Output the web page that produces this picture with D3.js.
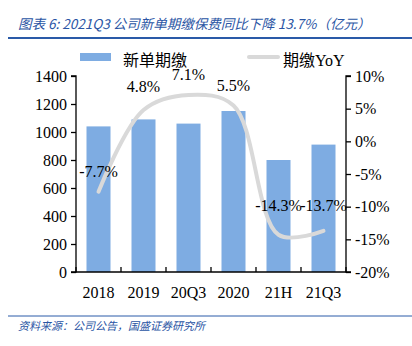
<!DOCTYPE html>
<html><head><meta charset="utf-8">
<script src="https://cdn.jsdelivr.net/npm/d3@7"></script>
<style>
html,body{margin:0;padding:0;background:#fff;}
svg{display:block;}
</style></head>
<body>
<svg id="c" width="412" height="346"></svg>
<script>
const categories = ["2018","2019","20Q3","2020","21H","21Q3"];
const premiums = [1040, 1090, 1060, 1150, 800, 910];
const yoy = [-7.7, 4.8, 7.1, 5.5, -14.3, -13.7];
const leftTicks = [0,200,400,600,800,1000,1200,1400];
const rightTicks = [-20,-15,-10,-5,0,5,10];
const seriesNames = ["新单期缴","期缴YoY"];
const titleText = "图表 6:  2021Q3 公司新单期缴保费同比下降 13.7%（亿元）";
const sourceText = "资料来源：公司公告，国盛证券研究所";

const svg = d3.select("#c");
const serifFam = "'Liberation Serif','Times New Roman','Noto Sans CJK SC',serif";
const blueText = "#2a55a4";

// Title
svg.append("text").attr("x",18).attr("y",29)
  .style("font-family","'Noto Sans CJK SC',sans-serif").style("font-style","italic")
  .style("font-size","13.5px").attr("fill",blueText).text(titleText);
svg.append("line").attr("x1",8).attr("x2",412).attr("y1",38).attr("y2",38)
  .attr("stroke","#2a5aa8").attr("stroke-width",2);

const L = 76, R = 346, T = 76, B = 272;
const xc = d3.scaleBand().domain(categories).range([L,R]);
const yL = d3.scaleLinear().domain([0,1400]).range([B,T]);
const yR = d3.scaleLinear().domain([-20,10]).range([B,T]);

// Bars
svg.append("g").selectAll("rect").data(premiums).join("rect")
  .attr("x",(d,i)=>xc(categories[i]) + xc.bandwidth()/2 - 12)
  .attr("width",24)
  .attr("y",d=>yL(d)).attr("height",d=>B-yL(d))
  .attr("fill","#7eace2");

// Line
const line = d3.line()
  .x((d,i)=>xc(categories[i])+xc.bandwidth()/2)
  .y(d=>yR(d))
  .curve(d3.curveCatmullRom.alpha(0.5));
svg.append("path").datum(yoy).attr("d",line)
  .attr("fill","none").attr("stroke","#d9d9d9").attr("stroke-width",4)
  .attr("stroke-linecap","round");

// Axes
const axL = d3.axisLeft(yL).tickValues(leftTicks).tickSize(5).tickPadding(4).tickFormat(d3.format("d"));
const gL = svg.append("g").attr("transform",`translate(${L},0)`).call(axL);
const axR = d3.axisRight(yR).tickValues(rightTicks).tickSize(5).tickPadding(4).tickFormat(d=>d+"%");
const gR = svg.append("g").attr("transform",`translate(${R},0)`).call(axR);
const axB = d3.axisBottom(xc).tickSize(0).tickPadding(12);
const gB = svg.append("g").attr("transform",`translate(0,${B})`).call(axB);
[gL,gR,gB].forEach(g=>{
  g.attr("font-family",null).attr("font-size",null);
  g.select(".domain").attr("stroke","#000").attr("stroke-width",1.3);
  g.selectAll(".tick line").attr("stroke","#000").attr("stroke-width",1.3);
  g.selectAll("text").style("font-family",serifFam).style("font-size","16px").attr("fill","#000");
});
gL.select(".domain").attr("d",`M-5,${T}H0V${B}H-5`);
gR.select(".domain").attr("d",`M5,${T}H0V${B}H5`);
gB.select(".domain").attr("d",`M${L},0H${R}`);
svg.append("g").selectAll("line").data(categories.concat(["end"])).join("line")
  .attr("x1",(d,i)=>L+i*xc.bandwidth()).attr("x2",(d,i)=>L+i*xc.bandwidth())
  .attr("y1",B).attr("y2",B-5).attr("stroke","#000").attr("stroke-width",1.3);
gB.selectAll(".tick text").attr("dy","0.9em");

// Data labels
const labelOffsets = [{dx:0,dy:-15},{dx:0,dy:-18},{dx:0,dy:-15},{dx:0,dy:-14},{dx:0,dy:-24},{dx:0,dy:-20}];
svg.append("g").selectAll("text").data(yoy).join("text")
  .attr("x",(d,i)=>xc(categories[i])+xc.bandwidth()/2+labelOffsets[i].dx)
  .attr("y",(d,i)=>yR(d)+labelOffsets[i].dy)
  .attr("text-anchor","middle").style("font-family",serifFam).style("font-size","16px")
  .attr("fill","#000").text(d=>d.toFixed(1)+"%");

// Legend
svg.append("rect").attr("x",80).attr("y",53).attr("width",31).attr("height",8).attr("fill","#7eace2");
svg.append("text").attr("x",123).attr("y",66).style("font-family",serifFam).style("font-size","16px").text(seriesNames[0]);
svg.append("line").attr("x1",249).attr("x2",278).attr("y1",57).attr("y2",57)
  .attr("stroke","#d9d9d9").attr("stroke-width",4).attr("stroke-linecap","round");
svg.append("text").attr("x",283).attr("y",66).style("font-family",serifFam).style("font-size","16px").text(seriesNames[1]);

// Footer
svg.append("line").attr("x1",8).attr("x2",412).attr("y1",316).attr("y2",316)
  .attr("stroke","#2a5aa8").attr("stroke-width",1);
svg.append("text").attr("x",18).attr("y",330)
  .style("font-family","'Noto Sans CJK SC',sans-serif").style("font-style","italic")
  .style("font-size","11px").attr("fill",blueText).text(sourceText);
</script>
</body></html>
